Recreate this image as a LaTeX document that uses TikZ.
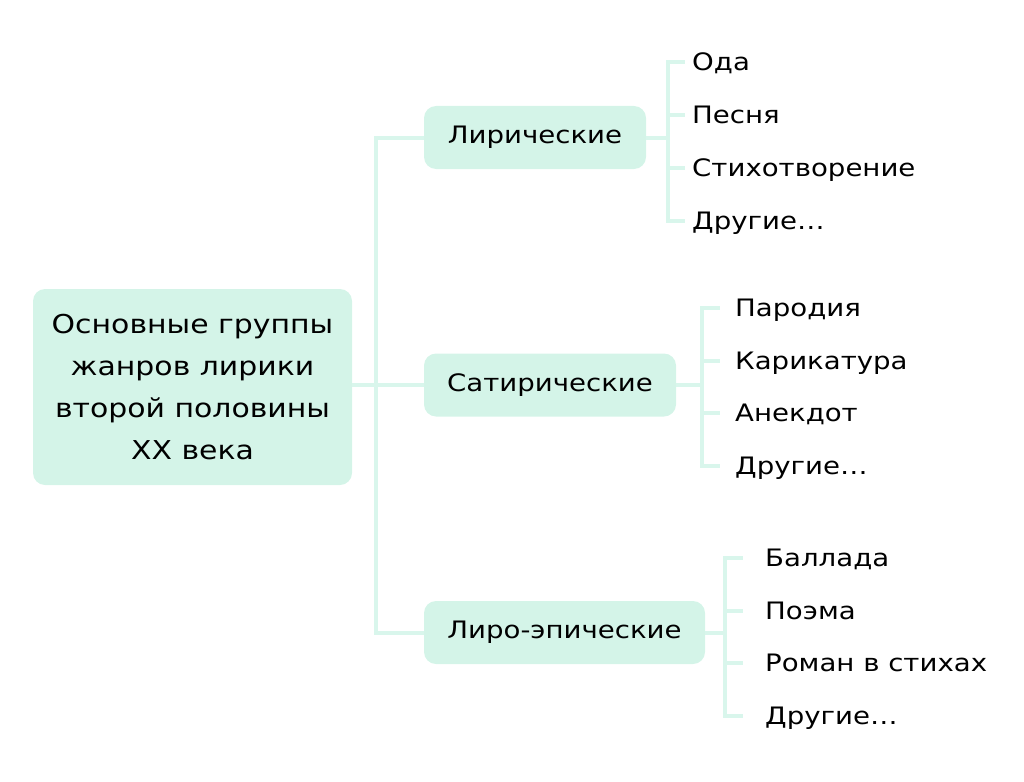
\documentclass[tikz,border=0pt]{standalone}
\usepackage{fontspec}
\setmainfont[FakeStretch=1.15]{DejaVu Sans}
\usetikzlibrary{positioning}
\definecolor{mintfill}{HTML}{D4F4E8}
\definecolor{mintline}{HTML}{D9F6EC}

\begin{document}
\begin{tikzpicture}[x=1pt,y=-1pt,
  group/.style={fill=mintfill,rounded corners=12pt,minimum height=63pt,inner sep=0pt,font=\fontsize{24}{30}\selectfont},
  leaf/.style={anchor=west,inner ysep=0pt,text height=17pt,text depth=0pt,font=\fontsize{24}{28}\selectfont},
  branch/.style={draw=mintline,line width=4pt}]
\useasboundingbox (0,0) rectangle (1024,781);
\node[group,minimum width=319pt,minimum height=196pt,align=center,font=\fontsize{26}{42}\selectfont] (root) at (192.5,387) {Основные группы\\жанров лирики\\второй половины\\XX века};
\node[group,minimum width=222pt] (lyr) at (535,137.5) {Лирические};
\node[group,minimum width=252pt] (sat) at (550,385) {Сатирические};
\node[group,minimum width=281pt] (lep) at (564.5,632.5) {Лиро-эпические};
\coordinate (hub) at (376,385);
\draw[branch] (root.east |- hub) -- (sat.west);
\draw[branch] (lyr.west) -| (hub) |- (lep.west);
\foreach \t [count=\k] in {Ода,Песня,Стихотворение,Другие…}
  \node[leaf,inner xsep=7pt] (lyr\k) at (685,{62+53*(\k-1)}) {\t};
\foreach \t [count=\k] in {Пародия,Карикатура,Анекдот,Другие…}
  \node[leaf,inner xsep=15pt] (sat\k) at (720,{308+52.7*(\k-1)}) {\t};
\foreach \t [count=\k] in {Баллада,Поэма,Роман в стихах,Другие…}
  \node[leaf,inner xsep=22pt] (lep\k) at (743,{558+52.7*(\k-1)}) {\t};
\foreach \k in {1,...,4}{
  \draw[branch] (lyr.east) -- ++(22,0) |- (lyr\k.west);
  \draw[branch] (sat.east) -- ++(26,0) |- (sat\k.west);
  \draw[branch] (lep.east) -- ++(20,0) |- (lep\k.west);
}
\end{tikzpicture}
\end{document}
